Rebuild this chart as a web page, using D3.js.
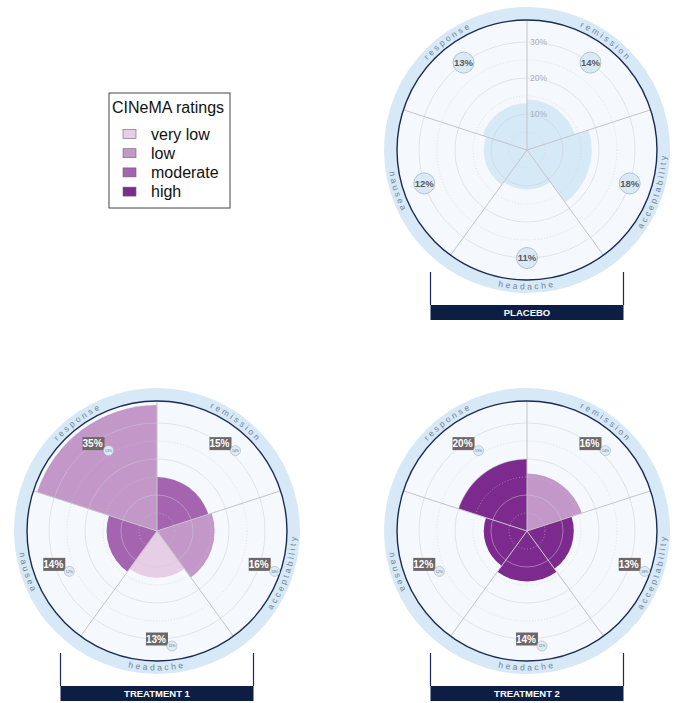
<!DOCTYPE html>
<html>
<head>
<meta charset="utf-8">
<script src="https://cdn.jsdelivr.net/npm/d3@7"></script>
<style>
  body { margin: 0; background: #fff; }
  svg { display: block; font-family: "Liberation Sans", Arial, sans-serif; }
</style>
</head>
<body>
<div id="chart"></div>
<script>
// data
const categories = ["response", "remission", "acceptability", "headache", "nausea"];
const placeboValues = [13, 14, 18, 11, 12];
const treatment1Values = [35, 15, 16, 13, 14];
const treatment2Values = [20, 16, 13, 14, 12];
const treatment1Ratings = ["low", "moderate", "low", "very low", "moderate"];
const treatment2Ratings = ["high", "low", "high", "high", "high"];
const ratingLevels = ["very low", "low", "moderate", "high"];
const ratingColors = ["#e6cfe6", "#c497c9", "#a464b0", "#7d2a8e"];
const gridTicks = [10, 20, 30];
const minorTicks = [5, 15, 25];

const width = 675, height = 703;

const svg = d3.select("#chart").append("svg")
    .attr("width", width)
    .attr("height", height);

// scales shared by all three panels
const angle = d3.scaleBand()
    .domain(categories)
    .range([-2 * Math.PI / 5, 2 * Math.PI * 4 / 5]);
const radius = d3.scaleLinear().domain([0, 30]).range([0, 108]);
const ratingColor = d3.scaleOrdinal().domain(ratingLevels).range(ratingColors);

const innerR = 130, ringR = 143;

function pt(a, r) {
    return [Math.sin(a) * r, -Math.cos(a) * r];
}

function drawPanel(id, cx, cy, values, ratings, title) {
    const g = svg.append("g").attr("transform", "translate(" + cx + "," + cy + ")");
    const rows = categories.map((c, i) => ({
        cat: c, value: values[i], placebo: placeboValues[i],
        rating: ratings ? ratings[i] : null
    }));

    // ring + background
    g.append("circle").attr("r", ringR).attr("fill", "#d7e9f6");
    g.append("circle").attr("r", innerR).attr("fill", "#f5f8fc");

    // wedges
    const arc = d3.arc()
        .innerRadius(0)
        .outerRadius(d => radius(d.value))
        .startAngle(d => angle(d.cat))
        .endAngle(d => angle(d.cat) + angle.bandwidth());

    g.selectAll(".wedge").data(rows).enter().append("path")
        .attr("class", "wedge")
        .attr("d", arc)
        .attr("fill", d => d.rating ? ratingColor(d.rating) : "#d6e9f6");

    // grid circles
    g.selectAll(".grid").data(gridTicks).enter().append("circle")
        .attr("r", d => radius(d))
        .attr("fill", "none")
        .attr("stroke", "#c9ccd4")
        .attr("stroke-opacity", 0.6)
        .attr("stroke-width", 0.8);
    g.selectAll(".minor").data(minorTicks).enter().append("circle")
        .attr("r", d => radius(d))
        .attr("fill", "none")
        .attr("stroke", "#c9ccd4")
        .attr("stroke-opacity", 0.65)
        .attr("stroke-dasharray", "1,2")
        .attr("stroke-width", 0.8);

    // spokes
    g.selectAll(".spoke").data(categories).enter().append("line")
        .attr("x1", 0).attr("y1", 0)
        .attr("x2", d => pt(angle(d), innerR)[0])
        .attr("y2", d => pt(angle(d), innerR)[1])
        .attr("stroke", "#c4c4c8")
        .attr("stroke-width", 1);

    g.append("circle").attr("r", innerR)
        .attr("fill", "none")
        .attr("stroke", "#1b2a52")
        .attr("stroke-width", 1.4);

    // curved category labels
    const span = 0.62;
    rows.forEach((d, i) => {
        const mid = angle(d.cat) + angle.bandwidth() / 2;
        const top = Math.cos(mid) > 0;
        const r = top ? 134 : 139.5;
        const a0 = top ? mid - span : mid + span;
        const a1 = top ? mid + span : mid - span;
        const p0 = pt(a0, r), p1 = pt(a1, r);
        const pid = id + "-lab-" + i;
        g.append("path")
            .attr("id", pid)
            .attr("d", "M" + p0[0] + "," + p0[1] + " A" + r + "," + r + " 0 0 " + (top ? 1 : 0) + " " + p1[0] + "," + p1[1])
            .attr("fill", "none");
        g.append("text")
            .attr("font-size", 8.5)
            .attr("letter-spacing", 2.6)
            .attr("fill", "#71849a")
            .append("textPath")
            .attr("href", "#" + pid)
            .attr("startOffset", "50%")
            .attr("text-anchor", "middle")
            .text(d.cat);
    });

    // value labels
    const labelR = radius(30);
    if (!ratings) {
        g.selectAll(".tick").data(gridTicks).enter().append("text")
            .attr("x", 3)
            .attr("y", d => -radius(d))
            .attr("dy", "0.35em")
            .attr("font-size", 8.5)
            .attr("fill", "#a9aebb")
            .text(d => d + "%");

        const lab = g.selectAll(".val").data(rows).enter().append("g")
            .attr("transform", d => "translate(" + pt(angle(d.cat) + angle.bandwidth() / 2, labelR) + ")");
        lab.append("circle").attr("r", 10.5)
            .attr("fill", "#d9eaf6")
            .attr("stroke", "#a6b6c6")
            .attr("stroke-width", 0.8);
        lab.append("text")
            .attr("text-anchor", "middle")
            .attr("dy", "0.35em")
            .attr("font-size", 9.5)
            .attr("font-weight", "bold")
            .attr("fill", "#5a5a60")
            .text(d => d.value + "%");
    } else {
        const lab = g.selectAll(".val").data(rows).enter().append("g")
            .attr("transform", d => "translate(" + pt(angle(d.cat) + angle.bandwidth() / 2, labelR) + ")");
        lab.append("rect")
            .attr("x", -11).attr("y", -6.5)
            .attr("width", 22).attr("height", 13)
            .attr("fill", "#6d6769");
        lab.append("text")
            .attr("x", -1)
            .attr("dy", "0.36em")
            .attr("text-anchor", "middle")
            .attr("font-size", 10)
            .attr("font-weight", "bold")
            .attr("fill", "#fff")
            .text(d => d.value + "%");
        lab.append("circle")
            .attr("cx", 15).attr("cy", 7).attr("r", 5)
            .attr("fill", "#dcecf7")
            .attr("stroke", "#9fb4c4")
            .attr("stroke-width", 0.6);
        lab.append("text")
            .attr("x", 15).attr("y", 7)
            .attr("dy", "0.35em")
            .attr("text-anchor", "middle")
            .attr("font-size", 3.5)
            .attr("fill", "#667")
            .text(d => d.placebo + "%");
    }

    // bracket + title banner
    const bx0 = -96.5, bx1 = 96.5;
    g.append("path")
        .attr("d", "M" + bx0 + ",122 V155 M" + bx1 + ",122 V155")
        .attr("stroke", "#1b2a52")
        .attr("stroke-width", 1.2)
        .attr("fill", "none");
    g.append("rect")
        .attr("x", bx0).attr("y", 155)
        .attr("width", bx1 - bx0).attr("height", 15)
        .attr("fill", "#0d1e45");
    g.append("text")
        .attr("y", 162.5)
        .attr("dy", "0.36em")
        .attr("text-anchor", "middle")
        .attr("font-size", 9.5)
        .attr("font-weight", "bold")
        .attr("fill", "#fff")
        .text(title);
}

drawPanel("pl", 527, 150, placeboValues, null, "PLACEBO");
drawPanel("t1", 157, 531, treatment1Values, treatment1Ratings, "TREATMENT 1");
drawPanel("t2", 527, 531, treatment2Values, treatment2Ratings, "TREATMENT 2");

// legend
const legend = svg.append("g").attr("transform", "translate(109,93)");
legend.append("rect")
    .attr("width", 121).attr("height", 115)
    .attr("fill", "#fff")
    .attr("stroke", "#444")
    .attr("stroke-width", 1);
legend.append("text")
    .attr("x", 3).attr("y", 20)
    .attr("font-size", 16)
    .attr("fill", "#111")
    .text("CINeMA ratings");
const items = legend.selectAll(".item").data(ratingLevels).enter().append("g")
    .attr("transform", (d, i) => "translate(0," + (41 + i * 19.2) + ")");
items.append("rect")
    .attr("x", 14).attr("y", -4.5)
    .attr("width", 13).attr("height", 9)
    .attr("fill", d => ratingColor(d))
    .attr("stroke", "#666")
    .attr("stroke-width", 0.6);
items.append("text")
    .attr("x", 42)
    .attr("dy", "0.35em")
    .attr("font-size", 16)
    .attr("fill", "#111")
    .text(d => d);
</script>
</body>
</html>
